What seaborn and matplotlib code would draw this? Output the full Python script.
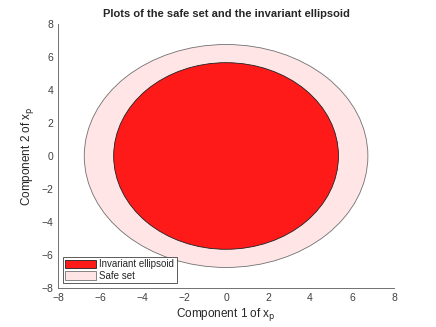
import numpy as np
import matplotlib.pyplot as plt
import seaborn as sns
from matplotlib.patches import Ellipse, Patch

# ellipse parameters (center, semi-axes)
names = ['Invariant ellipsoid', 'Safe set']
centers = [(0.0, 0.0), (0.0, 0.0)]
semi_x = [5.35, 6.75]
semi_y = [5.65, 6.75]
face_colors = ['#ff1a1a', '#ffe5e5']
edge_colors = ['#202020', '#707070']

x_ticks = [-8, -6, -4, -2, 0, 2, 4, 6, 8]
y_ticks = [-8, -6, -4, -2, 0, 2, 4, 6, 8]


def main():
    sns.set_style('white')
    plt.rcParams['font.family'] = ['Liberation Sans', 'DejaVu Sans']

    fig = plt.figure(figsize=(4.36, 3.27), dpi=100)
    ax = fig.add_axes([0.133, 0.119, 0.771, 0.808])

    # safe set first, ellipsoid on top
    handles = []
    for i in [1, 0]:
        e = Ellipse(centers[i], 2 * semi_x[i], 2 * semi_y[i],
                    facecolor=face_colors[i], edgecolor=edge_colors[i], linewidth=0.6)
        ax.add_patch(e)
    for i in [0, 1]:
        handles.append(Patch(facecolor=face_colors[i], edgecolor=edge_colors[i],
                             linewidth=0.6, label=names[i]))

    ax.set_xlim(-8, 8)
    ax.set_ylim(-8, 8)
    ax.set_xticks(x_ticks)
    ax.set_yticks(y_ticks)
    ax.tick_params(direction='in', length=3, width=0.6, color='#707070',
                   labelcolor='#404040', labelsize=7.5)
    for side in ['top', 'right']:
        ax.spines[side].set_visible(False)
    for side in ['left', 'bottom']:
        ax.spines[side].set_color('#707070')
        ax.spines[side].set_linewidth(0.7)

    ax.set_xlabel('Component 1 of x$_\\mathrm{p}$', fontsize=8.5, color='#262626', labelpad=2)
    ax.set_ylabel('Component 2 of x$_\\mathrm{p}$', fontsize=8.5, color='#262626', labelpad=4)
    ax.set_title('Plots of the safe set and the invariant ellipsoid',
                 fontsize=8, fontweight='bold', pad=5)

    leg = ax.legend(handles=handles, loc='lower left', fontsize=7,
                    fancybox=False, framealpha=1, edgecolor='#404040',
                    handlelength=3.2, handleheight=1.0, borderpad=0.25,
                    labelspacing=0.15, handletextpad=0.3, borderaxespad=0.5)
    leg.get_frame().set_linewidth(0.6)

    fig.savefig('out.png', dpi=100)


if __name__ == "__main__":
    main()
